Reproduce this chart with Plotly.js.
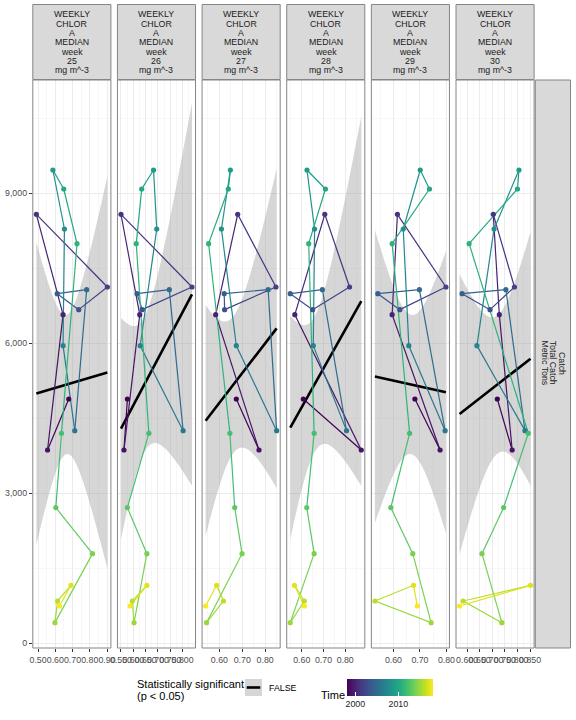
<!DOCTYPE html>
<html><head><meta charset="utf-8">
<script src="https://cdn.plot.ly/plotly-3.0.1.min.js"></script>
<style>html,body{margin:0;padding:0;background:#fff;}#chart{width:576px;height:720px;}</style>
</head><body><div id="chart"></div>
<script>
// ---------------- DATA ----------------
const years = [1998,1999,2000,2001,2002,2003,2004,2005,2006,2007,2008,2009,2010,2011,2012,2013,2014,2015,2016,2017,2018];
const catchTons = [4886,3866,6573,8580,7126,6673,6993,7073,4253,5953,8286,9466,9086,7993,4200,2713,1793,413,846,1160,746];
const weeks = [25,26,27,28,29,30];
const chlWeek25 = [0.678,0.555,0.645,0.490,0.902,0.736,0.611,0.782,0.713,0.645,0.653,0.586,0.649,0.726,0.636,0.603,0.816,0.598,0.613,0.691,0.624];
const chlWeek26 = [0.576,0.562,0.626,0.550,0.838,0.636,0.615,0.746,0.802,0.628,0.695,0.682,0.634,0.612,0.663,0.576,0.655,0.603,0.596,0.655,0.587];
const chlWeek27 = [0.674,0.773,0.584,0.680,0.847,0.623,0.621,0.813,0.850,0.674,0.609,0.648,0.639,0.553,0.646,0.667,0.699,0.544,0.618,0.588,0.540];
const chlWeek28 = [0.607,0.874,0.568,0.706,0.820,0.650,0.547,0.695,0.806,0.653,0.659,0.624,0.709,0.632,0.657,0.623,0.657,0.547,0.612,0.566,0.612];
const chlWeek29 = [0.681,0.776,0.595,0.615,0.798,0.624,0.541,0.698,0.795,0.658,0.637,0.701,0.736,0.595,0.661,0.590,0.673,0.742,0.530,0.676,0.690];
const chlWeek30 = [0.720,0.779,0.728,0.704,0.788,0.691,0.580,0.754,0.830,0.639,0.707,0.806,0.800,0.608,0.843,0.745,0.659,0.738,0.584,0.852,0.570];
const chlByWeek = [chlWeek25,chlWeek26,chlWeek27,chlWeek28,chlWeek29,chlWeek30];

const xTickVals25 = [0.5,0.6,0.7,0.8,0.9];
const xTickText25 = ['0.50','0.60','0.70','0.80','0.90'];
const xTickVals26 = [0.55,0.6,0.65,0.7,0.75,0.8];
const xTickText26 = ['0.550','0.600','0.650','0.700','0.750','0.800'];
const xTickVals27 = [0.6,0.7,0.8];
const xTickText27 = ['0.60','0.70','0.80'];
const xTickVals28 = [0.6,0.7,0.8];
const xTickText28 = ['0.60','0.70','0.80'];
const xTickVals29 = [0.6,0.7,0.8];
const xTickText29 = ['0.60','0.70','0.80'];
const xTickVals30 = [0.6,0.65,0.7,0.75,0.8,0.85];
const xTickText30 = ['0.600','0.650','0.700','0.750','0.800','0.850'];
const xTickValsAll = [xTickVals25,xTickVals26,xTickVals27,xTickVals28,xTickVals29,xTickVals30];
const xTickTextAll = [xTickText25,xTickText26,xTickText27,xTickText28,xTickText29,xTickText30];
const xMinorStep = [0.05,0.025,0.05,0.05,0.05,0.025];

const yTickVals = [0,3000,6000,9000];
const yTickText = ['0','3,000','6,000','9,000'];
const yMinorVals = [1500,4500,7500,10500];

const stripHead = ['WEEKLY','CHLOR','A','MEDIAN','week'];
const stripUnit = 'mg m^-3';
const rightStripLines = ['Catch','Total Catch','Metric Tons'];
const legendTitle = ['Statistically significant','(p &lt; 0.05)'];
const legendLabel = 'FALSE';
const colorTitle = 'Time';
const colorTickVals = [2000,2010];
const colorTickText = ['2000','2010'];
const yearMin = 1998, yearMax = 2018;

// ---------------- helpers ----------------
const W = 576, H = 720;
const px = v => v / W;
const py = v => 1 - v / H;
const FONT = 'Liberation Sans, Arial, Helvetica, sans-serif';
const VIRIDIS = [[0,'#440154'],[0.0627451,'#48186a'],[0.1254902,'#472d7b'],[0.1882353,'#424086'],[0.2509804,'#3b528b'],[0.3137255,'#33638d'],[0.3764706,'#2c728e'],[0.4392157,'#26828e'],[0.5019608,'#21918c'],[0.5647059,'#1fa088'],[0.6274510,'#28ae80'],[0.6901961,'#3fbc73'],[0.7529412,'#5ec962'],[0.8156863,'#84d44b'],[0.8784314,'#addc30'],[0.9411765,'#d8e219'],[1,'#fde725']];
function hex(h){return [parseInt(h.slice(1,3),16),parseInt(h.slice(3,5),16),parseInt(h.slice(5,7),16)];}
function viridisAt(t){
  t = Math.max(0,Math.min(1,t));
  for (let i=1;i<VIRIDIS.length;i++){
    if (t <= VIRIDIS[i][0]){
      const a=VIRIDIS[i-1], b=VIRIDIS[i];
      const f=(t-a[0])/(b[0]-a[0]);
      const ca=hex(a[1]), cb=hex(b[1]);
      return 'rgb('+ca.map((c,k)=>Math.round(c+(cb[k]-c)*f)).join(',')+')';
    }
  }
  return VIRIDIS[VIRIDIS.length-1][1];
}
const T975 = 2.093024; // t quantile, df = n - 2 = 19

// panel geometry (pixels)
const PANEL_LEFT0 = 32.8, PANEL_PITCH = 84.64, PANEL_W = 78.1;
const PANEL_TOP = 80, PANEL_BOTTOM = 648;
const STRIP_TOP = 4.5, STRIP_BOTTOM = 79.5;

const traces = [];
const layout = {
  width: W, height: H,
  margin: {l:0,r:0,t:0,b:0,pad:0},
  paper_bgcolor: '#fff', plot_bgcolor: '#fff',
  showlegend: false,
  font: {family: FONT, size: 8.8, color: '#1a1a1a'},
  shapes: [], annotations: []
};

layout.yaxis = {
  domain: [py(PANEL_BOTTOM), py(PANEL_TOP)], anchor: 'x',
  range: [-94, 11266],
  tickmode: 'array', tickvals: yTickVals, ticktext: yTickText,
  ticks: 'outside', ticklen: 3, tickwidth: 1, tickcolor: '#333333',
  tickfont: {family: FONT, size: 8.8, color: '#4d4d4d'},
  showgrid: true, gridcolor: '#ebebeb', gridwidth: 1,
  minor: {tickmode: 'array', tickvals: yMinorVals, showgrid: true, gridcolor: '#f4f4f4', gridwidth: 0.7},
  zeroline: false, showline: false, fixedrange: true
};

chlByWeek.forEach((chl, i) => {
  const xa = i === 0 ? 'x' : 'x' + (i + 1);
  const xkey = i === 0 ? 'xaxis' : 'xaxis' + (i + 1);
  const left = PANEL_LEFT0 + i * PANEL_PITCH, right = left + PANEL_W;
  const xmin = Math.min(...chl), xmax = Math.max(...chl), span = xmax - xmin;
  layout[xkey] = {
    domain: [px(left), px(right)], anchor: 'y',
    range: [xmin - 0.05 * span, xmax + 0.05 * span],
    tickmode: 'array', tickvals: xTickValsAll[i], ticktext: xTickTextAll[i], tickangle: 0,
    ticks: 'outside', ticklen: 3, tickwidth: 1, tickcolor: '#333333',
    tickfont: {family: FONT, size: 8.8, color: '#4d4d4d'},
    showgrid: true, gridcolor: '#ebebeb', gridwidth: 1,
    minor: {tick0: xTickValsAll[i][0], dtick: xMinorStep[i], showgrid: true, gridcolor: '#f4f4f4', gridwidth: 0.7},
    zeroline: false, showline: false, fixedrange: true
  };

  // linear fit with 95% confidence band (as geom_smooth(method = "lm"))
  const n = chl.length;
  const mx = chl.reduce((a,b)=>a+b,0)/n, my = catchTons.reduce((a,b)=>a+b,0)/n;
  let sxx = 0, sxy = 0;
  for (let k=0;k<n;k++){ sxx += (chl[k]-mx)**2; sxy += (chl[k]-mx)*(catchTons[k]-my); }
  const b = sxy / sxx, a = my - b * mx;
  let sse = 0;
  for (let k=0;k<n;k++){ sse += (catchTons[k] - (a + b*chl[k]))**2; }
  const s = Math.sqrt(sse / (n - 2));
  const gx = [], gy = [], up = [], lo = [];
  for (let k=0;k<80;k++){
    const x = xmin + span * k / 79;
    const yh = a + b * x;
    const se = s * Math.sqrt(1/n + (x-mx)**2 / sxx);
    gx.push(x); gy.push(yh); up.push(yh + T975*se); lo.push(yh - T975*se);
  }
  traces.push({type:'scatter', mode:'none', x: gx.concat(gx.slice().reverse()), y: up.concat(lo.slice().reverse()),
    fill:'toself', fillcolor:'rgba(153,153,153,0.4)', line:{width:0}, xaxis: xa, yaxis:'y', hoverinfo:'skip'});
  traces.push({type:'scatter', mode:'lines', x: gx, y: gy, line:{color:'#000', width:2.6}, xaxis: xa, yaxis:'y', hoverinfo:'skip'});

  // time path, each segment coloured by its starting year
  for (let k=0;k<n-1;k++){
    traces.push({type:'scatter', mode:'lines', x:[chl[k], chl[k+1]], y:[catchTons[k], catchTons[k+1]],
      line:{color: viridisAt((years[k]-yearMin)/(yearMax-yearMin)), width:1.2}, xaxis: xa, yaxis:'y', hoverinfo:'skip'});
  }
  // points
  const marker = {size: 5.2, color: years, colorscale: VIRIDIS, cmin: yearMin, cmax: yearMax, line:{width:0}, showscale: i === 0};
  if (i === 0) {
    marker.colorbar = {
      orientation: 'h', x: px(389.7), xanchor: 'center', xref: 'paper',
      y: py(679.3), yanchor: 'top', yref: 'paper',
      len: 86 / W, lenmode: 'fraction', thickness: 17, thicknessmode: 'pixels',
      outlinewidth: 0, borderwidth: 0, xpad: 0, ypad: 0,
      tickmode: 'array', tickvals: colorTickVals, ticktext: colorTickText,
      ticks: 'inside', ticklen: 3.5, tickcolor: '#ffffff', tickwidth: 1,
      tickfont: {family: FONT, size: 8.8, color: '#1a1a1a'},
      title: {text: ''}
    };
  }
  traces.push({type:'scatter', mode:'markers', x: chl, y: catchTons, marker, xaxis: xa, yaxis:'y', hoverinfo:'skip'});

  // panel border
  layout.shapes.push({type:'rect', xref:'paper', yref:'paper', x0: px(left), x1: px(right), y0: py(PANEL_BOTTOM), y1: py(PANEL_TOP),
    line:{color:'#858585', width:1}, fillcolor:'rgba(0,0,0,0)', layer:'above'});
  // strip
  layout.shapes.push({type:'rect', xref:'paper', yref:'paper', x0: px(left), x1: px(right), y0: py(STRIP_BOTTOM), y1: py(STRIP_TOP),
    line:{color:'#858585', width:1}, fillcolor:'#d9d9d9', layer:'above'});
  const lines = stripHead.concat([String(weeks[i]), stripUnit]);
  lines.forEach((t, j) => {
    layout.annotations.push({text: t, xref:'paper', yref:'paper', x: px((left+right)/2), y: py(14.3 + j*9.33),
      xanchor:'center', yanchor:'middle', showarrow:false, font:{family: FONT, size: 8.8, color:'#1a1a1a'}});
  });
});

// right strip
const rsLeft = PANEL_LEFT0 + 5*PANEL_PITCH + PANEL_W + 1.2, rsRight = 570.5;
layout.shapes.push({type:'rect', xref:'paper', yref:'paper', x0: px(rsLeft), x1: px(rsRight), y0: py(PANEL_BOTTOM), y1: py(PANEL_TOP),
  line:{color:'#858585', width:1}, fillcolor:'#d9d9d9', layer:'above'});
rightStripLines.forEach((t, j) => {
  layout.annotations.push({text: t, xref:'paper', yref:'paper', x: px(562 - j*8.7), y: py(363), textangle: 90,
    xanchor:'center', yanchor:'middle', showarrow:false, font:{family: FONT, size: 8.8, color:'#1a1a1a'}});
});

// legend: statistically significant
legendTitle.forEach((t, j) => {
  layout.annotations.push({text: t, xref:'paper', yref:'paper', x: px(134.5), y: py(683.5 + j*12), xanchor:'left', yanchor:'middle',
    showarrow:false, font:{family: FONT, size: 11, color:'#000'}});
});
layout.shapes.push({type:'rect', xref:'paper', yref:'paper', x0: px(245), x1: px(262), y0: py(696), y1: py(679), line:{width:0}, fillcolor:'#d6d6d6', layer:'above'});
layout.shapes.push({type:'line', xref:'paper', yref:'paper', x0: px(246.7), x1: px(260.3), y0: py(687.5), y1: py(687.5), line:{color:'#000', width:2.6}, layer:'above'});
layout.annotations.push({text: legendLabel, xref:'paper', yref:'paper', x: px(267), y: py(687.5), xanchor:'left', yanchor:'middle',
  showarrow:false, font:{family: FONT, size: 8.8, color:'#000'}});
layout.annotations.push({text: colorTitle, xref:'paper', yref:'paper', x: px(318.5), y: py(694.5), xanchor:'left', yanchor:'middle',
  showarrow:false, font:{family: FONT, size: 11, color:'#000'}});

Plotly.newPlot('chart', traces, layout, {displayModeBar:false, staticPlot:true});
</script>
</body></html>
